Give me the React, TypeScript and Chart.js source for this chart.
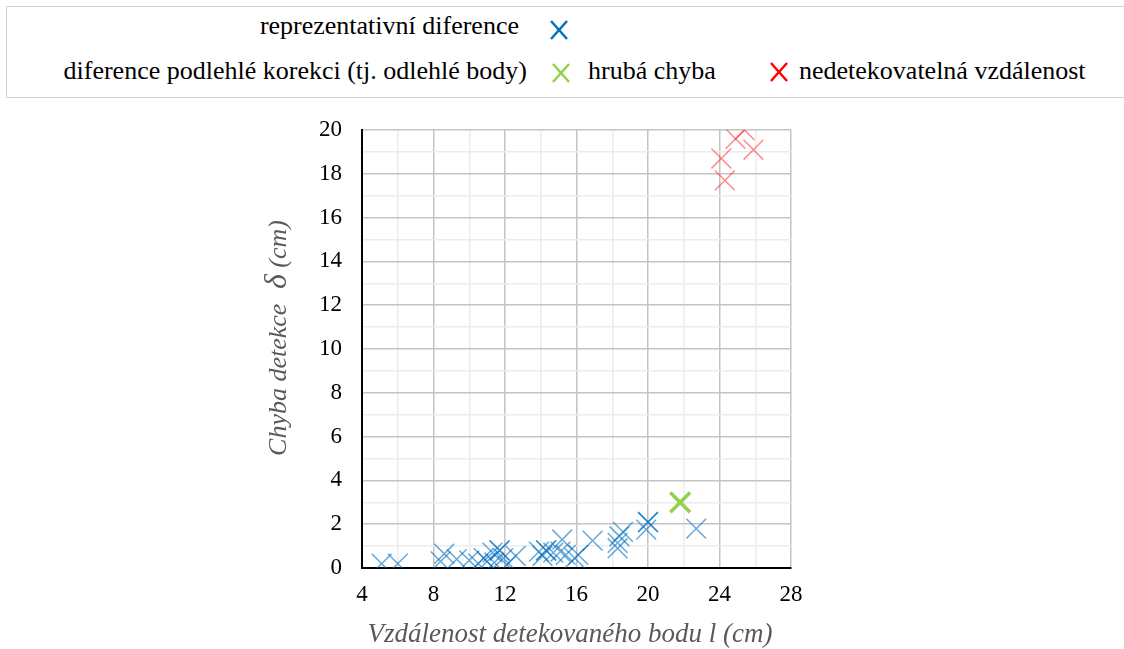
import React, { useEffect, useRef } from 'react';
import { Chart, registerables } from 'chart.js';

Chart.register(...registerables);

// Data
const blueX = [5.1, 6.0, 8.4, 8.6, 9.3, 10.0, 10.5, 10.8, 11.0, 11.3, 11.4, 11.7, 11.7, 11.9, 12.1, 12.6, 13.9, 14.1, 14.3, 14.3, 14.7, 15.1, 15.2, 15.4, 15.9, 16.1, 16.9, 18.3, 18.3, 18.4, 18.6, 19.9, 20.0, 20.0, 22.7];
const blueY = [0.2, 0.2, 0.3, 0.65, 0.4, 0.35, 0.2, 0.45, 0.3, 0.7, 0.25, 0.8, 0.8, 0.45, 0.15, 0.55, 0.75, 0.55, 0.8, 0.8, 0.7, 0.75, 1.3, 0.6, 0.45, 0.6, 1.25, 0.9, 1.15, 1.45, 1.65, 1.75, 2.1, 2.1, 1.8];
const greenX = [21.8];
const greenY = [3.0];
const redX = [25.4, 24.9, 25.9, 24.1, 24.3];
const redY = [20.0, 19.6, 19.1, 18.7, 17.7];

const legendLabels = [
  'reprezentativní diference',
  'diference podlehlé korekci (tj. odlehlé body)',
  'hrubá chyba',
  'nedetekovatelná vzdálenost',
];
const xTitle = 'Vzdálenost detekovaného bodu l (cm)';
const yTitleParts = ['Chyba detekce ', 'δ', ' (cm)'];

const SERIF = '"Liberation Serif", "Times New Roman", serif';

function toPoints(xs: number[], ys: number[]) {
  return xs.map((x, i) => ({ x, y: ys[i] }));
}

const axisTitlePlugin = {
  id: 'axisTitles',
  afterDraw(chart: any) {
    const ctx = chart.ctx as CanvasRenderingContext2D;
    ctx.save();
    ctx.fillStyle = '#595959';
    ctx.textBaseline = 'alphabetic';
    ctx.textAlign = 'center';
    ctx.font = `italic 27px ${SERIF}`;
    ctx.fillText(xTitle, 570, 642);

    // y-axis title, rotated, with a larger delta symbol
    const fonts = [`italic 26px ${SERIF}`, `italic 32px ${SERIF}`, `italic 26px ${SERIF}`];
    const gaps = [8, 0, 0];
    const widths = yTitleParts.map((t, i) => {
      ctx.font = fonts[i];
      return ctx.measureText(t).width;
    });
    const total = widths.reduce((a, b) => a + b, 0) + gaps.reduce((a, b) => a + b, 0);
    ctx.translate(286, 338);
    ctx.rotate(-Math.PI / 2);
    ctx.textAlign = 'left';
    let x = -total / 2;
    yTitleParts.forEach((t, i) => {
      ctx.font = fonts[i];
      ctx.fillText(t, x, 0);
      x += widths[i] + gaps[i];
    });
    ctx.restore();
  },
};

function XMark({ color, left, top }: { color: string; left: number; top: number }) {
  return (
    <svg width={20} height={20} style={{ position: 'absolute', left: left - 10, top: top - 10 }}>
      <line x1={2} y1={1} x2={18} y2={19} stroke={color} strokeWidth={2.5} />
      <line x1={18} y1={1} x2={2} y2={19} stroke={color} strokeWidth={2.5} />
    </svg>
  );
}

export default function App() {
  const canvasRef = useRef<HTMLCanvasElement | null>(null);

  useEffect(() => {
    const canvas = canvasRef.current;
    if (!canvas) return;
    const chart = new Chart(canvas, {
      type: 'scatter',
      data: {
        datasets: [
          {
            label: legendLabels[0],
            data: toPoints(blueX, blueY),
            pointStyle: 'crossRot',
            pointRadius: 14,
            pointHoverRadius: 14,
            borderColor: 'rgba(0,112,192,0.6)',
            backgroundColor: 'rgba(0,112,192,0.6)',
            borderWidth: 1.5,
          },
          {
            label: legendLabels[3],
            data: toPoints(redX, redY),
            pointStyle: 'crossRot',
            pointRadius: 14,
            pointHoverRadius: 14,
            borderColor: 'rgba(255,0,0,0.45)',
            backgroundColor: 'rgba(255,0,0,0.45)',
            borderWidth: 1.5,
          },
          {
            label: legendLabels[2],
            data: toPoints(greenX, greenY),
            pointStyle: 'crossRot',
            pointRadius: 14,
            pointHoverRadius: 14,
            borderColor: '#92D050',
            backgroundColor: '#92D050',
            borderWidth: 3.5,
          },
        ],
      },
      options: {
        animation: false,
        responsive: false,
        events: [],
        layout: { padding: { left: 255, top: 130, right: 333, bottom: 0 } },
        plugins: {
          legend: { display: false },
          tooltip: { enabled: false },
        },
        scales: {
          x: {
            type: 'linear',
            min: 4,
            max: 28,
            afterFit: (scale: any) => {
              scale.height = 81;
            },
            ticks: {
              stepSize: 2,
              autoSkip: false,
              maxRotation: 0,
              padding: 13,
              color: '#000',
              font: { family: SERIF, size: 23 },
              callback: (v: any) => (Number(v) % 4 === 0 ? String(v) : ''),
            },
            grid: {
              drawTicks: false,
              color: (ctx: any) => (ctx.tick && ctx.tick.value % 4 === 0 ? '#c4c4c4' : '#ececec'),
              lineWidth: 1.5,
            },
            border: { display: true, color: '#000', width: 2 },
            title: { display: false, text: xTitle },
          },
          y: {
            type: 'linear',
            min: 0,
            max: 20,
            afterFit: (scale: any) => {
              scale.width = 107;
            },
            ticks: {
              stepSize: 1,
              autoSkip: false,
              padding: 20,
              color: '#000',
              font: { family: SERIF, size: 23 },
              callback: (v: any) => (Number(v) % 2 === 0 ? String(v) : ''),
            },
            grid: {
              drawTicks: false,
              color: (ctx: any) => (ctx.tick && ctx.tick.value % 2 === 0 ? '#c4c4c4' : '#ececec'),
              lineWidth: 1.5,
            },
            border: { display: true, color: '#000', width: 2 },
            title: { display: false, text: yTitleParts.join('') },
          },
        },
      },
      plugins: [axisTitlePlugin],
    });
    return () => chart.destroy();
  }, []);

  const textStyle: React.CSSProperties = {
    position: 'absolute',
    fontFamily: SERIF,
    fontSize: 26,
    color: '#000',
    whiteSpace: 'nowrap',
    height: 40,
    lineHeight: '40px',
  };

  return (
    <div style={{ position: 'absolute', left: 0, top: 0, width: 1124, height: 649, background: '#fff', overflow: 'hidden' }}>
      <canvas ref={canvasRef} width={1124} height={649} style={{ position: 'absolute', left: 0, top: 0 }} />
      <div
        style={{
          position: 'absolute',
          left: 6,
          top: 6,
          width: 1130,
          height: 90,
          border: '1.5px solid #d0d0d0',
          background: '#fff',
        }}
      />
      <div style={{ ...textStyle, right: 1124 - 519, top: 26 - 20 }}>{legendLabels[0]}</div>
      <XMark color="#0070C0" left={559} top={30} />
      <div style={{ ...textStyle, right: 1124 - 527, top: 71 - 20 }}>{legendLabels[1]}</div>
      <XMark color="#92D050" left={561} top={73} />
      <div style={{ ...textStyle, left: 588, top: 71 - 20 }}>{legendLabels[2]}</div>
      <XMark color="#FF0000" left={779} top={72} />
      <div style={{ ...textStyle, left: 799, top: 71 - 20 }}>{legendLabels[3]}</div>
    </div>
  );
}
